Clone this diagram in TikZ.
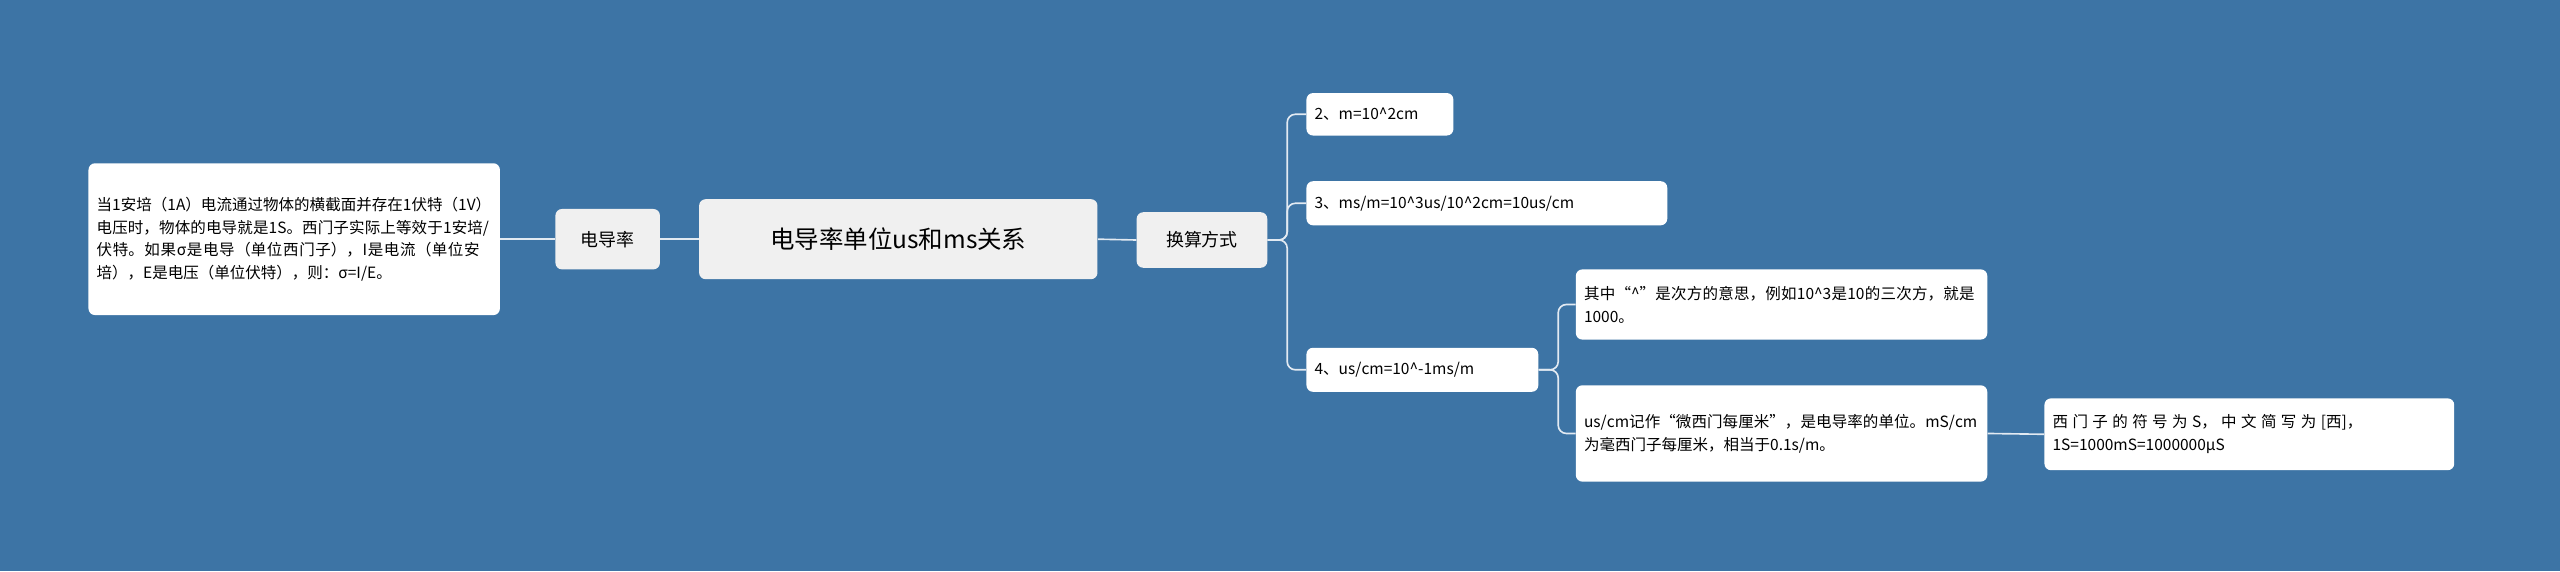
\documentclass[tikz,border=0pt]{standalone}
\usepackage{fontspec}
\setmainfont{Noto Sans CJK SC}
\XeTeXlinebreaklocale "zh"
\XeTeXlinebreakskip=0pt plus 1pt
\usepackage{xcolor}
\usetikzlibrary{positioning,calc}
\definecolor{bgblue}{HTML}{3D74A5}
\definecolor{hubgray}{HTML}{F0F0F0}

\begin{document}
\begin{tikzpicture}[x=1pt,y=-1pt,
    leaf/.style={rectangle, fill=white, rounded corners=4pt, anchor=west,
                 align=left, inner sep=5pt, font=\fontsize{9.5}{14}\selectfont},
    hub/.style={rectangle, fill=hubgray, rounded corners=4pt, anchor=west,
                align=center, inner sep=5pt, font=\fontsize{11}{14}\selectfont},
    link/.style={draw=white!85!bgblue, line width=1pt, rounded corners=5pt},
  ]
  \fill[bgblue] (0,0) rectangle (1568,350);
  \useasboundingbox (0,0) rectangle (1568,350);

  % Root
  \node[hub, minimum width=244pt, minimum height=49pt, font=\fontsize{15}{18}\selectfont]
    (root) at (428,146.5) {电导率单位us和ms关系};

  % Left branch
  \node[hub, minimum width=64pt, minimum height=37pt] (cond) at (340,146.5) {电导率};
  \node[leaf, text width=242pt, minimum height=93pt] (def) at (54,146.5)
    {当1安培（1A）电流通过物体的横截面并存在1伏特（1V）电压时，物体的电导就是1S。西门子实际上等效于1安培/伏特。如果σ是电导（单位西门子），I是电流（单位安培），E是电压（单位伏特），则：σ=I/E。};

  % Right branch
  \node[hub, minimum width=80pt, minimum height=34pt] (conv) at (696,147) {换算方式};
  \node[leaf, text width=80pt, minimum height=26pt] (c2) at (800,70) {2、m=10\^{}2cm};
  \node[leaf, text width=211pt, minimum height=27pt] (c3) at (800,124.5) {3、ms/m=10\^{}3us/10\^{}2cm=10us/cm};
  \node[leaf, text width=132pt, minimum height=27pt] (c4) at (800,226.5) {4、us/cm=10\^{}-1ms/m};

  \node[leaf, text width=242pt, minimum height=43pt] (pow) at (965,186.5)
    {其中“\^{}”是次方的意思，例如10\^{}3是10的三次方，就是1000。};
  \node[leaf, text width=242pt, minimum height=59pt] (usc) at (965,265.5)
    {us/cm记作“微西门每厘米”，是电导率的单位。mS/cm为毫西门子每厘米，相当于0.1s/m。};
  \node[leaf, text width=241pt, minimum height=44pt] (sym) at (1252,266)
    {西门子的符号为S，中文简写为[西]，1S=1000mS=1000000μS};

  % Connectors
  \draw[link] (root.west) -- (cond.east);
  \draw[link] (cond.west) -- (def.east);
  \draw[link] (root.east) -- (conv.east -| conv.west);
  \foreach \k in {c2,c3,c4}
    \draw[link] (conv.east) -- ++(12,0) |- (\k.west);
  \foreach \k in {pow,usc}
    \draw[link] (c4.east) -- ++(12,0) |- (\k.west);
  \draw[link] (usc.east) -- (sym.west);
\end{tikzpicture}
\end{document}
